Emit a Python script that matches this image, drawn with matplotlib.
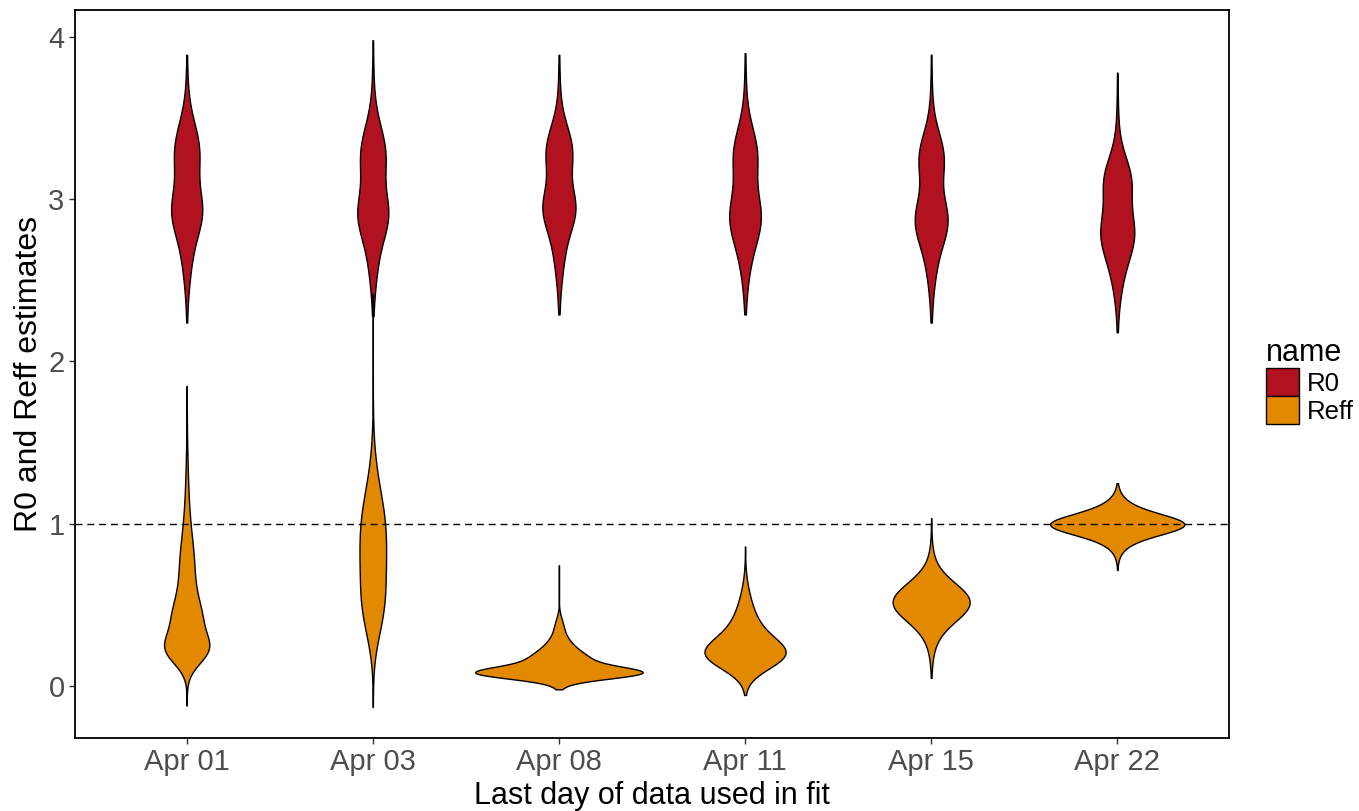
import numpy as np
import matplotlib.pyplot as plt
from matplotlib.patches import Patch

plt.rcParams['font.family'] = ['Liberation Sans', 'DejaVu Sans']

# x categories (last day of data used in the fit)
dates = ['Apr 01', 'Apr 03', 'Apr 08', 'Apr 11', 'Apr 15', 'Apr 22']
series_names = ['R0', 'Reff']
fill_colors = ['#B2111F', '#E38900']

# posterior estimates summarised as gaussian mixtures: (mean, sd, weight)
r0_components = [
    [(2.93, 0.14, 0.28), (3.30, 0.17, 0.34), (2.72, 0.20, 0.16), (3.10, 0.40, 0.22)],
    [(2.91, 0.14, 0.28), (3.28, 0.17, 0.34), (2.70, 0.20, 0.16), (3.10, 0.40, 0.22)],
    [(2.95, 0.13, 0.28), (3.30, 0.15, 0.32), (2.75, 0.20, 0.18), (3.10, 0.40, 0.22)],
    [(2.90, 0.15, 0.30), (3.28, 0.16, 0.30), (2.72, 0.20, 0.18), (3.10, 0.40, 0.22)],
    [(2.88, 0.14, 0.30), (3.26, 0.15, 0.30), (2.70, 0.20, 0.18), (3.05, 0.40, 0.22)],
    [(2.80, 0.14, 0.30), (3.12, 0.14, 0.30), (2.62, 0.18, 0.18), (2.95, 0.38, 0.22)],
]
# min / max of the posterior draws
r0_min = [2.24, 2.28, 2.29, 2.29, 2.24, 2.18]
r0_max = [3.89, 3.98, 3.89, 3.90, 3.89, 3.78]

reff_components = [
    [(0.22, 0.09, 0.30), (0.40, 0.13, 0.33), (0.70, 0.20, 0.25), (1.00, 0.30, 0.12)],
    [(0.75, 0.25, 0.50), (1.05, 0.20, 0.24), (0.45, 0.18, 0.20), (1.30, 0.20, 0.06)],
    [(0.08, 0.035, 0.42), (0.14, 0.07, 0.45), (0.27, 0.06, 0.08), (0.38, 0.05, 0.03)],
    [(0.19, 0.09, 0.55), (0.30, 0.12, 0.35), (0.50, 0.12, 0.10)],
    [(0.52, 0.11, 0.60), (0.50, 0.17, 0.40)],
    [(0.995, 0.055, 0.35), (1.00, 0.09, 0.65)],
]
reff_min = [-0.12, -0.13, -0.02, -0.055, 0.05, 0.715]
reff_max = [1.85, 2.42, 0.745, 0.86, 1.035, 1.25]


def mixture_density(comps, lo, hi, n=500):
    y = np.linspace(lo, hi, n)
    w_total = sum(c[2] for c in comps)
    d = np.zeros_like(y)
    for m, s, w in comps:
        d += (w / w_total) * np.exp(-0.5 * ((y - m) / s) ** 2) / (s * np.sqrt(2 * np.pi))
    return y, d


# density of every violin (trimmed to the data range)
violins = []
for k, (comps_list, mins, maxs) in enumerate([(r0_components, r0_min, r0_max),
                                              (reff_components, reff_min, reff_max)]):
    for i in range(len(dates)):
        y, d = mixture_density(comps_list[i], mins[i], maxs[i])
        violins.append((i, k, y, d))

# scale = "area": the largest density gets the full 0.9 width
dmax = max(v[3].max() for v in violins)

fig = plt.figure(figsize=(13.59, 8.11), dpi=100)
ax = fig.add_axes([0.0552, 0.09, 0.8491, 0.8977])

for i, k, y, d in violins:
    hw = 0.45 * d / dmax
    ax.fill_betweenx(y, i - hw, i + hw, facecolor=fill_colors[k],
                     edgecolor='black', linewidth=1.0, zorder=2)

ax.axhline(1, color='black', linewidth=1.0, linestyle=(0, (5, 3.5)), zorder=3)

ax.set_xlim(-0.6, len(dates) - 0.4)
ax.set_ylim(-0.32, 4.166)
ax.set_xticks(range(len(dates)))
ax.set_xticklabels(dates)
ax.set_yticks([0, 1, 2, 3, 4])
ax.tick_params(axis='both', labelsize=21, colors='#333333', labelcolor='#4D4D4D',
               length=4, width=1.0)
ax.set_xlabel('Last day of data used in fit', fontsize=22, color='black', labelpad=3)
ax.set_ylabel('R0 and Reff estimates', fontsize=23, color='black', labelpad=3)
for sp in ax.spines.values():
    sp.set_linewidth(1.3)
    sp.set_color('black')

handles = [Patch(facecolor=c, edgecolor='black', linewidth=1.0) for c in fill_colors]
leg = fig.legend(handles, series_names, title='name', loc='center left',
                 bbox_to_anchor=(0.922, 0.53), frameon=False, fontsize=18.5,
                 title_fontsize=22, handlelength=1.3, handleheight=1.3,
                 handletextpad=0.3, labelspacing=0.0, borderpad=0.0)
leg._legend_box.align = 'left'

fig.savefig('out.png', dpi=100)
